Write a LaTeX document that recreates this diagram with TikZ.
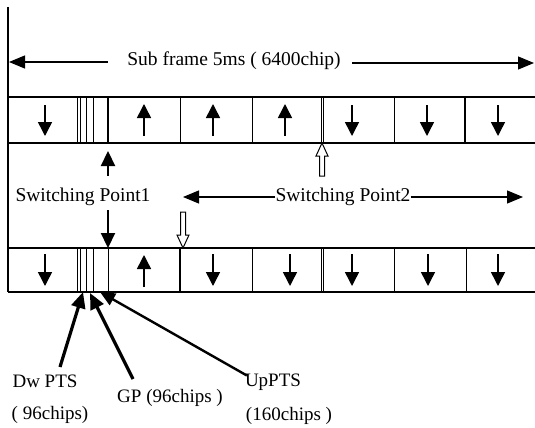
\documentclass[tikz,border=0pt]{standalone}
\usepackage{fontspec}
\setmainfont{Liberation Serif}
\usetikzlibrary{arrows.meta}
\begin{document}
\begin{tikzpicture}[x=1pt,y=-1pt,
  rowline/.style={line width=1.2pt},
  thinsep/.style={line width=1pt},
  thicksep/.style={line width=2.6pt},
  cellarr/.style={line width=1.5pt,-{Triangle[width=14pt,length=14pt]}},
  dimarr/.style={line width=1.2pt,-{Triangle[width=13pt,length=16pt]}},
  sparr/.style={line width=2.2pt,-{Triangle[width=14pt,length=15pt]}},
  bigarr/.style={line width=3.2pt,-{Triangle[width=14pt,length=16pt]}},
  hollow/.style={draw,line width=1pt,fill=white},
  lbl/.style={font=\fontsize{19.5}{22}\selectfont,inner sep=0pt},
  slbl/.style={font=\fontsize{19}{22}\selectfont,inner sep=0pt}]
\useasboundingbox (0,0) rectangle (535,428);
\fill[white] (0,0) rectangle (535,428);
% left frame boundary
\draw[line width=1.2pt] (8,7) -- (8,292);
% ---- top row ----
\draw[rowline] (8,97) -- (535,97);
\draw[rowline] (8,143) -- (535,143);
\foreach \x in {77.5,80,86.7,93.3} \draw[thinsep] (\x,97) -- (\x,143);
\draw[thicksep] (108,97) -- (108,143);
\draw[thinsep] (180,97) -- (180,143);
\draw[thinsep] (252,97) -- (252,143);
\draw[thinsep] (321,97) -- (321,143);
\draw[thinsep] (323.5,97) -- (323.5,143);
\draw[thinsep] (394,97) -- (394,143);
\draw[thicksep] (465,97) -- (465,143);
% top row arrows
\foreach \x in {45,352,427,498} \draw[cellarr] (\x,105) -- (\x,136);
\foreach \x in {144,213,285} \draw[cellarr] (\x,136) -- (\x,104);
% ---- bottom row ----
\draw[rowline] (8,248) -- (535,248);
\draw[rowline] (8,292) -- (535,292);
\foreach \x in {77.5,80.5,86.5,93,108} \draw[thinsep] (\x,248) -- (\x,292);
\draw[thicksep] (180,248) -- (180,292);
\draw[thinsep] (252,248) -- (252,292);
\draw[thinsep] (321,248) -- (321,292);
\draw[thinsep] (323.5,248) -- (323.5,292);
\draw[thinsep] (394,248) -- (394,292);
\draw[thinsep] (466,248) -- (466,292);
\foreach \x in {45,213,290,352,428,498} \draw[cellarr] (\x,254) -- (\x,286);
\draw[cellarr] (144,287) -- (144,255);
% ---- subframe label ----
\node[lbl] (sf) at (234,61) {Sub frame 5ms ( 6400chip)};
\coordinate (sfL) at (9,62);
\coordinate (sfR) at (534,63);
\draw[dimarr] (108,62) -- (sfL);
\draw[dimarr] (352,63) -- (sfR);
% ---- switching point 1 ----
\node[lbl] (sp1) at (83,197) {Switching Point1};
\coordinate (sp1up) at (108,151);
\coordinate (sp1dn) at (108,248);
\draw[sparr] (108,176) -- (sp1up);
\draw[sparr] (108,210) -- (sp1dn);
% ---- switching point 2 ----
\node[lbl] (sp2) at (343,197) {Switching Point2};
\coordinate (sp2L) at (183,197);
\coordinate (sp2R) at (523,197);
\draw[dimarr] (sp2.west) -- (sp2L);
\draw[dimarr] (sp2.east) -- (sp2R);
% hollow arrows
\draw[hollow] (322,143) -- (328,156) -- (324.5,156) -- (324.5,176) -- (319.5,176) -- (319.5,156) -- (316,156) -- cycle;
\draw[hollow] (183,248) -- (189,235) -- (185.5,235) -- (185.5,212) -- (180.5,212) -- (180.5,235) -- (177,235) -- cycle;
% ---- bottom labels ----
\node[slbl] (dw) at (45,381) {Dw PTS};
\node[slbl] (dwc) at (50,415) {( 96chips)};
\node[slbl] (gp) at (170,398) {GP (96chips )};
\node[slbl] (up) at (273,382) {UpPTS};
\node[slbl] (upc) at (289,416) {(160chips )};
\coordinate (dwT) at (83,292);
\coordinate (gpT) at (90,293);
\coordinate (upT) at (100,292);
\draw[bigarr] (60,367) -- (dwT);
\draw[bigarr] (133,379) -- (gpT);
\draw[line width=2.4pt,-{Triangle[width=13pt,length=15pt]}] (up.north west) ++(2,2) -- (upT);
\end{tikzpicture}
\end{document}
